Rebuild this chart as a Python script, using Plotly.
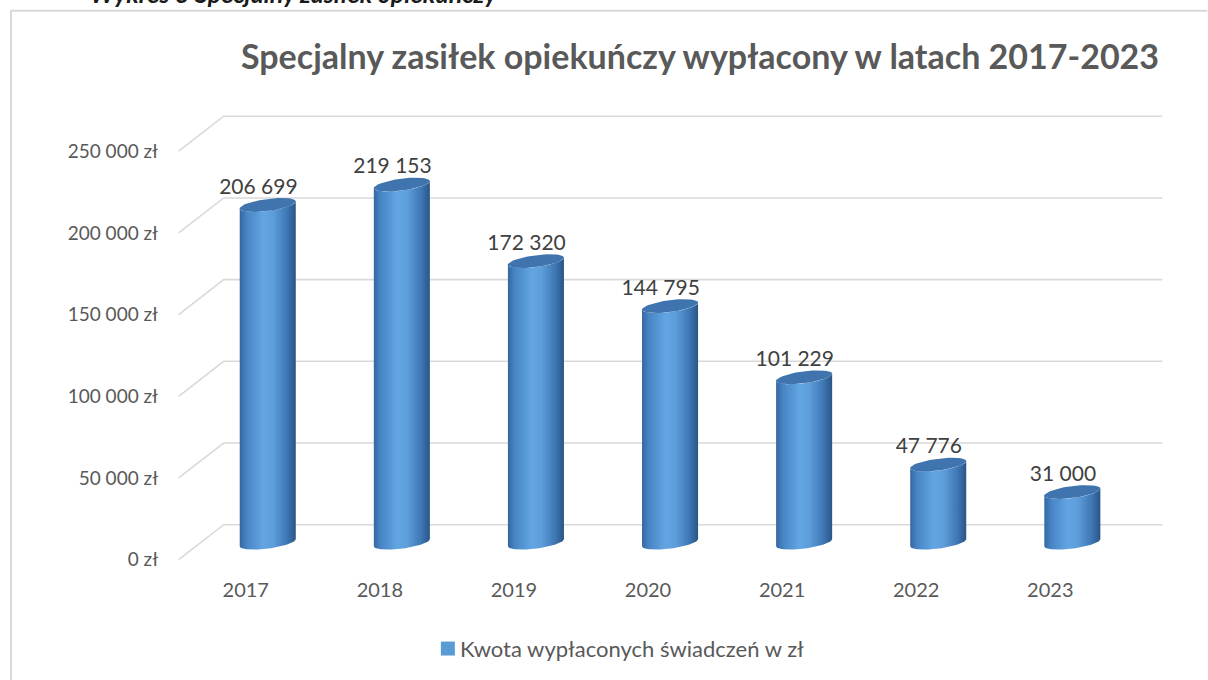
import numpy as np
import plotly.graph_objects as go

# ---------------- data ----------------
years = ["2017", "2018", "2019", "2020", "2021", "2022", "2023"]
values = [206699, 219153, 172320, 144795, 101229, 47776, 31000]
y_ticks = [0, 50000, 100000, 150000, 200000, 250000]
y_tick_labels = [f"{v:,} zł".replace(",", " ") for v in y_ticks]
title_text = "Specjalny zasiłek opiekuńczy wypłacony w latach 2017-2023"
legend_name = "Kwota wypłaconych świadczeń w zł"
caption = "Wykres 3 Specjalny zasiłek opiekuńczy"

# ---------------- geometry (pseudo 3D) ----------------
W, H = 1208, 680
PX_CAT = 134.0            # pixels per category
PX_UNIT = 409 / 250000    # pixels per value unit (front plane)
X_LO, X_HI = -0.52, 6.9
Y_LO, Y_HI = -10000, 285000
L = 179 + (X_LO + 0.5) * PX_CAT
R = W - (179 + (X_HI + 0.5) * PX_CAT)
T = 560 - Y_HI * PX_UNIT
B = H - (560 - Y_LO * PX_UNIT)
PW, PH = W - L - R, H - T - B

DXM, DYM = 22 / PX_CAT, 17 / PX_UNIT     # mid depth (cylinders)
DXB, DYB = 45 / PX_CAT, 35 / PX_UNIT     # back wall
RX = 28 / PX_CAT
RY = 6 / PX_UNIT
SH = 3.5 / PX_UNIT


def pxp(px):
    return (px - L) / PW


def pyp(py):
    return (H - B - py) / PH


FONT = "Lato"
GRAY = "#595959"

fig = go.Figure()

# gridlines (perspective)
gx, gy = [], []
for v in y_ticks:
    gx += [-0.5, -0.5 + DXB, 6.5 + DXB, None]
    gy += [v, v + DYB, v + DYB, None]
fig.add_trace(go.Scatter(x=gx, y=gy, mode="lines", line=dict(color="#d9d9d9", width=1.6),
                         hoverinfo="skip", showlegend=False))


def ell(cx, cy, t):
    return cx + RX * np.cos(t), cy + RY * np.sin(t) + SH * np.cos(t)


body_scale = [[0, "#3567a1"], [0.12, "#4784c4"], [0.42, "#63a5e3"], [0.6, "#5c9dda"],
              [0.85, "#3d76b3"], [1, "#2a5585"]]

for i, v in enumerate(values):
    cx = i + DXM
    cb = DYM
    ct = v + DYM
    t1 = np.linspace(np.pi, 2 * np.pi, 40)
    bx, by = ell(cx, cb, t1)
    t2 = np.linspace(2 * np.pi, np.pi, 40)
    tx, ty = ell(cx, ct, t2)
    fig.add_trace(go.Scatter(
        x=np.concatenate([bx, tx, bx[:1]]), y=np.concatenate([by, ty, by[:1]]),
        mode="lines", fill="toself", line=dict(width=0),
        fillgradient=dict(type="horizontal", colorscale=body_scale),
        hoverinfo="skip", showlegend=False))
    tt = np.linspace(0, 2 * np.pi, 60)
    ex, ey = ell(cx, ct, tt)
    fig.add_trace(go.Scatter(
        x=ex, y=ey, mode="lines", fill="toself", line=dict(width=0),
        fillcolor="#3f74ae", hoverinfo="skip", showlegend=False))

# data labels
fig.add_trace(go.Scatter(
    x=[i + DXM - 0.07 for i in range(len(values))],
    y=[v + DYM + RY for v in values],
    mode="text",
    text=[f"{v:,}".replace(",", " ") for v in values],
    textposition="top center",
    textfont=dict(family=FONT, size=21, color="#404040"),
    hoverinfo="skip", showlegend=False, cliponaxis=False))

shapes = [
    # chart frame (left & top)
    dict(type="line", xref="paper", yref="paper", x0=pxp(11.5), x1=pxp(11.5), y0=pyp(10), y1=pyp(700),
         line=dict(color="#d9d9d9", width=2)),
    dict(type="line", xref="paper", yref="paper", x0=pxp(11), x1=pxp(1207), y0=pyp(10.5), y1=pyp(10.5),
         line=dict(color="#d9d9d9", width=2)),
    # legend key
    dict(type="rect", xref="paper", yref="paper", x0=pxp(441), x1=pxp(455), y0=pyp(642), y1=pyp(656),
         fillcolor="#5b9bd5", line=dict(width=0)),
]

annotations = [
    dict(text=legend_name, xref="paper", yref="paper", x=pxp(458), y=pyp(649), xanchor="left",
         yanchor="middle", showarrow=False, font=dict(family=FONT, size=22, color=GRAY)),
    dict(text="<b><i>" + caption + "</i></b>", xref="paper", yref="paper", x=pxp(88), y=pyp(10),
         xanchor="left", yanchor="bottom", showarrow=False, font=dict(family=FONT, size=25, color="#1a1a1a")),
]

fig.update_layout(
    width=W, height=H,
    margin=dict(l=L, r=R, t=T, b=B),
    paper_bgcolor="white", plot_bgcolor="white",
    title=dict(text="<b>" + title_text + "</b>", x=700 / W, xanchor="center", xref="container",
               y=1 - 57 / H, yanchor="middle", yref="container",
               font=dict(family=FONT, size=34, color=GRAY)),
    xaxis=dict(range=[X_LO, X_HI], tickvals=list(range(len(years))), ticktext=years,
               showgrid=False, zeroline=False, showline=False, ticks="",
               tickfont=dict(family=FONT, size=20, color=GRAY), fixedrange=True),
    yaxis=dict(range=[Y_LO, Y_HI], tickvals=y_ticks, ticktext=y_tick_labels,
               showgrid=False, zeroline=False, showline=False, ticks="", ticklabelstandoff=17,
               tickfont=dict(family=FONT, size=19, color=GRAY), fixedrange=True),
    shapes=shapes, annotations=annotations,
    showlegend=False,
)

fig.write_html("out.html", config={"displayModeBar": False},
               post_script="document.body.style.margin='0px';")
